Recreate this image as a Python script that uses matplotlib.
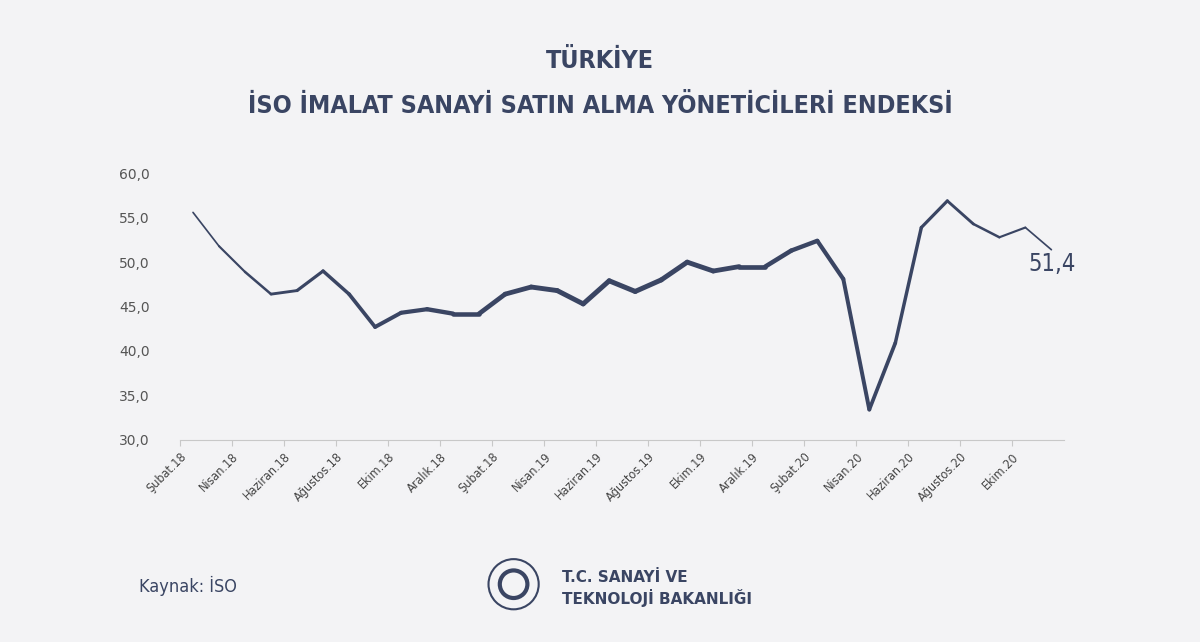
import matplotlib
matplotlib.use("Agg")
import matplotlib.pyplot as plt
import numpy as np
from matplotlib.patches import Circle

values = [55.6, 51.8, 48.9, 46.4, 46.8, 49.0, 46.4, 42.7, 44.3, 44.7, 44.2, 44.2,
          46.4, 47.2, 46.8, 45.3, 47.9, 46.7, 48.0, 50.0, 49.0, 49.5, 49.5,
          51.3, 52.4, 48.1, 33.4, 40.9, 53.9, 56.9, 54.3, 52.8, 53.9, 51.4]
tick_labels = ["Şubat.18", "Nisan.18", "Haziran.18", "Ağustos.18", "Ekim.18", "Aralık.18",
               "Şubat.18", "Nisan.19", "Haziran.19", "Ağustos.19", "Ekim.19", "Aralık.19",
               "Şubat.20", "Nisan.20", "Haziran.20", "Ağustos.20", "Ekim.20"]
yticks = [30, 35, 40, 45, 50, 55, 60]

navy = "#3a4563"
fig = plt.figure(figsize=(12, 6.42), dpi=100)
fig.patch.set_facecolor("#f3f3f5")
ax = fig.add_axes([0.15, 0.315, 0.737, 0.415])
ax.set_facecolor("none")
n = len(values)
x = np.arange(n)
for i in range(n - 1):
    t = (i + 0.5) / (n - 1)
    lw = 1.0 + 2.6 * np.sin(np.pi * t) ** 0.8
    ax.plot(x[i:i + 2], values[i:i + 2], color=navy, lw=lw, solid_capstyle="round")
ax.set_xlim(-0.5, n - 0.5)
ax.set_ylim(30, 60)
ax.set_yticks(yticks)
ax.set_yticklabels([f"{v},0" for v in yticks], fontsize=10, color="#555")
ax.set_xticks(np.arange(0, n, 2) - 0.5)
ax.set_xticklabels(tick_labels, rotation=45, ha="right", rotation_mode="anchor",
                   fontsize=9, color="#444", fontstretch="condensed")
for s in ["top", "right", "left"]:
    ax.spines[s].set_visible(False)
ax.spines["bottom"].set_color("#c8c8c8")
ax.tick_params(axis="y", length=0, pad=22)
ax.tick_params(axis="x", length=4, color="#c8c8c8")
ax.text(n - 1.9, values[-1] - 0.3, "51,4", fontsize=17, color=navy, va="top", ha="left",
        fontstretch="condensed")

fig.text(0.5, 0.905, "TÜRKİYE", ha="center", va="center", fontsize=18,
         fontweight="bold", color=navy, fontstretch="condensed")
fig.text(0.5, 0.835, "İSO İMALAT SANAYİ SATIN ALMA YÖNETİCİLERİ ENDEKSİ", ha="center",
         va="center", fontsize=18, fontweight="bold", color=navy, fontstretch="condensed")
fig.text(0.116, 0.087, "Kaynak: İSO", fontsize=13, color=navy, va="center",
         fontstretch="condensed")
lax = fig.add_axes([0.405, 0.03, 0.046, 0.12])
lax.set_aspect("equal"); lax.axis("off")
lax.add_patch(Circle((0, 0), 1, fill=False, ec=navy, lw=1.5))
lax.add_patch(Circle((0, 0), 0.55, fill=False, ec=navy, lw=3))
lax.set_xlim(-1.1, 1.1); lax.set_ylim(-1.1, 1.1)
fig.text(0.468, 0.1, "T.C. SANAYİ VE", fontsize=11, color=navy, fontweight="bold", va="center")
fig.text(0.468, 0.068, "TEKNOLOJİ BAKANLIĞI", fontsize=11, color=navy, fontweight="bold", va="center")
fig.savefig("out.png", dpi=100, facecolor=fig.get_facecolor())
